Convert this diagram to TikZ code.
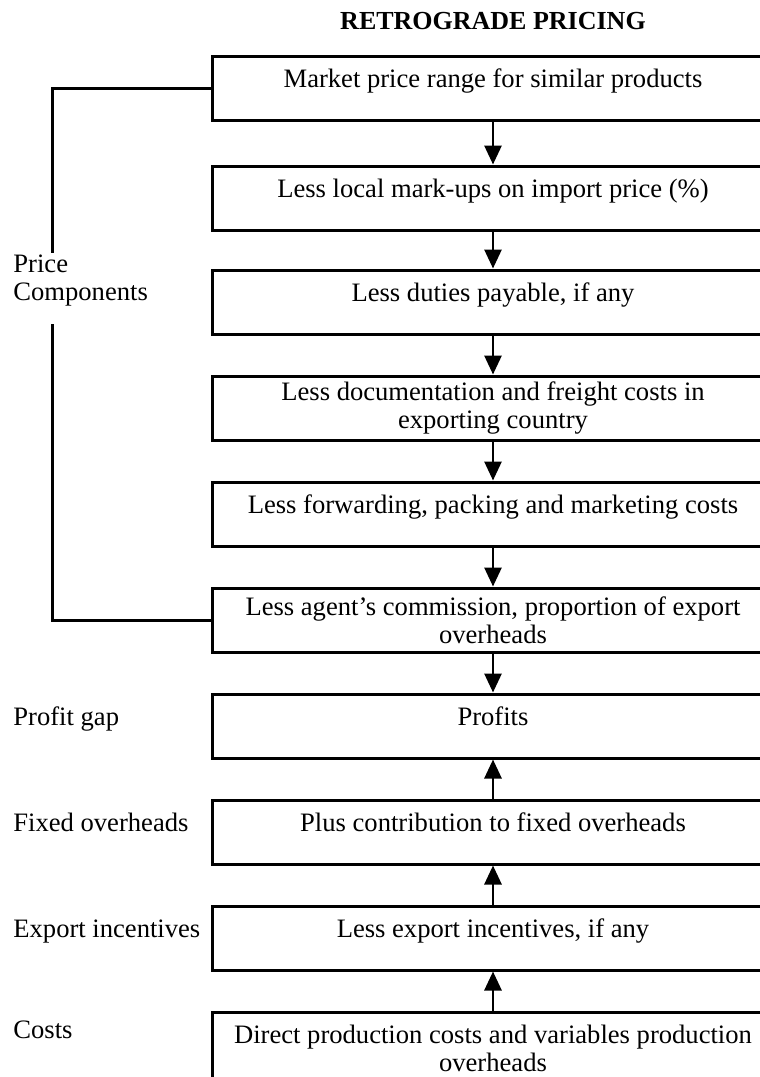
\documentclass[tikz,border=0pt]{standalone}
\usepackage{fontspec}
\setmainfont{Liberation Serif}
\usetikzlibrary{arrows.meta}

\begin{document}
\begin{tikzpicture}[
    x=0.5pt, y=-0.5pt,
    box/.style={rectangle, draw=black, line width=1.5pt, minimum width=281pt, minimum height=32pt, inner sep=2pt, font=\fontsize{13.3}{14}\selectfont},
    stage/.style={box, text height=8.8pt, text depth=9.8pt},
    stagetwo/.style={box, align=center},
    side/.style={anchor=base west, inner sep=0pt, font=\fontsize{13.3}{14}\selectfont},
    arrow/.style={-{Triangle[length=9.5pt, width=8.5pt]}, line width=1.4pt},
    bracket/.style={line width=1.5pt},
]
\useasboundingbox (0,0) rectangle (760,1077);
\clip (0,0) rectangle (760,1077);

\node[font=\fontsize{13}{14}\selectfont\bfseries] (TITLE) at (493,21) {RETROGRADE PRICING};

% price components, top down
\node[stage] (MARKET) at (493,88) {Market price range for similar products};
\node[stage] (MARKUP) at (493,198) {Less local mark-ups on import price (\%)};
\node[stage] (DUTIES) at (493,302) {Less duties payable, if any};
\node[stagetwo] (DOCS) at (493,408) {Less documentation and freight costs in\\exporting country};
\node[stage] (FORWARD) at (493,514) {Less forwarding, packing and marketing costs};
\node[stagetwo] (AGENT) at (493,620) {Less agent's commission, proportion of export\\overheads};

% gap, then bottom up
\node[stage] (PROFIT) at (493,726) {Profits};
\node[stage] (FIXED) at (493,832) {Plus contribution to fixed overheads};
\node[stage] (INCENT) at (493,938) {Less export incentives, if any};
\node[stagetwo, minimum height=36pt] (DIRECT) at (493,1048) {Direct production costs and variables production\\overheads};

\draw[arrow] (MARKET) -- (MARKUP);
\draw[arrow] (MARKUP) -- (DUTIES);
\draw[arrow] (DUTIES) -- (DOCS);
\draw[arrow] (DOCS) -- (FORWARD);
\draw[arrow] (FORWARD) -- (AGENT);
\draw[arrow] (AGENT) -- (PROFIT);
\draw[arrow] (FIXED) -- (PROFIT);
\draw[arrow] (INCENT) -- (FIXED);
\draw[arrow] (DIRECT) -- (INCENT);

% left side labels
\node[anchor=west, align=left, inner sep=0pt, font=\fontsize{13.3}{14}\selectfont] (PRICECOMP) at (13,281) {Price\\Components};
\node[side] (GAPLBL) at (13,725) {Profit gap};
\node[side] (FIXLBL) at (13,831) {Fixed overheads};
\node[side] (INCLBL) at (13,937) {Export incentives};
\node[side] (COSTLBL) at (13,1038) {Costs};

\coordinate (PCTOP) at (52,253);
\coordinate (PCBOT) at (52,324);
\draw[bracket] (MARKET.west) -| (PCTOP);
\draw[bracket] (PCBOT) |- (AGENT.west);
\end{tikzpicture}
\end{document}
